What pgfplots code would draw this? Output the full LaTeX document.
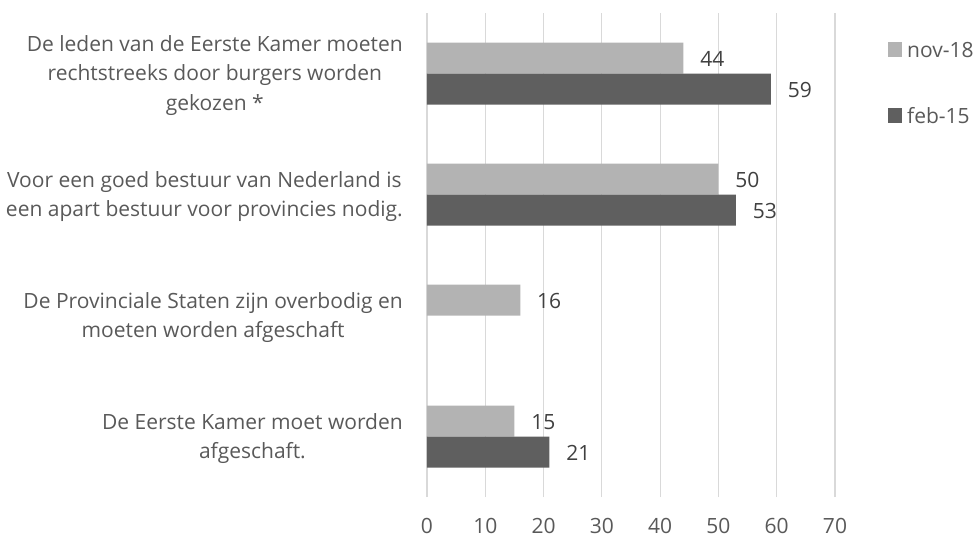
\documentclass[border=0pt]{standalone}
\usepackage{fontspec}
\setmainfont{Open Sans}
\usepackage{pgfplots}
\pgfplotsset{compat=1.18}
\definecolor{lightbar}{HTML}{B3B3B3}
\definecolor{darkbar}{HTML}{5F5F5F}
\definecolor{gridc}{HTML}{D9D9D9}
\definecolor{labelc}{HTML}{595959}
\definecolor{valc}{HTML}{404040}
\begin{document}
\begin{tikzpicture}
\useasboundingbox (-427bp,-40bp) rectangle (549bp,497bp);
\begin{axis}[
  at={(0,0)}, anchor=south west,
  scale only axis, width=408bp, height=484bp,
  xbar, bar width=31bp,
  xmin=0, xmax=70, ymin=-0.5, ymax=3.5,
  xtick={0,10,...,70}, ytick={0,1,2,3},
  yticklabels={{De Eerste Kamer moet worden\\afgeschaft.},
               {De Provinciale Staten zijn overbodig en\\moeten worden afgeschaft},
               {Voor een goed bestuur van Nederland is\\een apart bestuur voor provincies nodig.},
               {De leden van de Eerste Kamer moeten\\rechtstreeks door burgers worden\\gekozen *}},
  xmajorgrids, major grid style={gridc, line width=1.2bp},
  axis line style={draw=none}, major tick length=0pt,
  tick label style={font=\fontsize{21bp}{29.5bp}\selectfont, text=labelc},
  /pgf/number format/assume math mode=true,
  xticklabel style={anchor=north, inner sep=0pt, yshift=-21bp, text height=15bp, text depth=0pt},
  yticklabel style={anchor=east, align=center, inner sep=0pt, xshift=-24bp, yshift=-2bp},
  nodes near coords,
  nodes near coords style={anchor=west, inner sep=0pt, xshift=16.7bp, yshift=-1bp,
     text height=15bp, text depth=0pt, text=valc, font=\fontsize{21bp}{25bp}\selectfont},
  legend image code/.code={\fill[#1] (0bp,-7.25bp) rectangle (14bp,7.25bp);},
  legend style={at={(1,1)}, anchor=north west, xshift=53bp, yshift=-29bp,
     draw=none, fill=none, inner sep=0pt, row sep=51bp, cells={anchor=west},
     nodes={inner sep=0pt, text height=15bp, text depth=0pt, text=labelc,
            font=\fontsize{21bp}{25bp}\selectfont},
     /tikz/every odd column/.append style={column sep=5bp}},
  clip=false,
]
\addplot[fill=lightbar, draw=none, bar shift=15.5bp] coordinates {(15,0) (16,1) (50,2) (44,3)};
\addplot[fill=darkbar, draw=none, bar shift=-15.5bp] coordinates {(21,0) (53,2) (59,3)};
\legend{nov-18, feb-15}
\end{axis}
\end{tikzpicture}
\end{document}
